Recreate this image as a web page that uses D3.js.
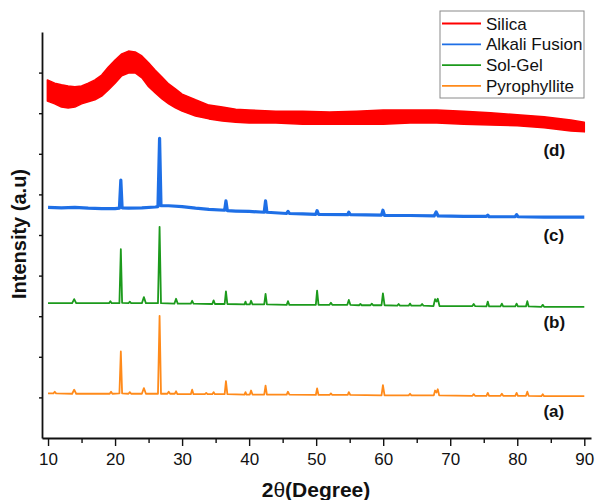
<!DOCTYPE html>
<html>
<head>
<meta charset="utf-8">
<script src="https://cdn.jsdelivr.net/npm/d3@7"></script>
<style>
  body { margin: 0; background: #fff; }
  svg { display: block; font-family: 'Liberation Sans', Arial, sans-serif; }
</style>
</head>
<body>
<svg id="chart" width="597" height="500"></svg>
<script>
// 2theta (deg) / intensity (a.u., stacked)
const pyrophyllite = [
  [10.0, 1.10], [10.8, 1.10], [11.0, 1.14], [11.2, 1.10],
  [13.6, 1.09], [13.9, 1.19], [14.2, 1.09],
  [19.2, 1.09], [19.4, 1.14], [19.6, 1.09],
  [20.65, 1.10], [20.86, 2.13], [21.05, 1.10],
  [22.0, 1.09], [22.2, 1.13], [22.4, 1.09],
  [24.0, 1.09], [24.3, 1.23], [24.6, 1.09],
  [26.4, 1.09], [26.64, 3.01], [26.85, 1.09],
  [27.8, 1.09], [28.0, 1.14], [28.2, 1.09],
  [28.9, 1.09], [29.1, 1.15], [29.3, 1.08],
  [31.3, 1.08], [31.5, 1.19], [31.7, 1.08],
  [33.4, 1.08], [33.6, 1.11], [33.8, 1.08],
  [34.5, 1.08], [34.7, 1.13], [34.9, 1.08],
  [36.35, 1.08], [36.54, 1.40], [36.75, 1.08],
  [39.3, 1.07], [39.46, 1.13], [39.6, 1.07], [40.1, 1.07], [40.29, 1.17], [40.5, 1.07],
  [42.25, 1.07], [42.45, 1.29], [42.65, 1.07],
  [45.6, 1.07], [45.79, 1.14], [46.0, 1.07],
  [49.95, 1.06], [50.14, 1.22], [50.35, 1.06],
  [52.0, 1.06], [52.2, 1.10], [52.4, 1.06],
  [54.7, 1.06], [54.87, 1.13], [55.1, 1.06],
  [59.75, 1.05], [59.96, 1.30], [60.2, 1.05],
  [63.8, 1.05], [64.0, 1.09], [64.2, 1.05],
  [67.55, 1.05], [67.74, 1.17], [67.95, 1.12], [68.14, 1.20], [68.35, 1.05],
  [73.3, 1.04], [73.5, 1.08], [73.7, 1.04],
  [75.4, 1.04], [75.6, 1.11], [75.8, 1.04],
  [77.5, 1.04], [77.7, 1.09], [77.9, 1.04],
  [79.7, 1.04], [79.9, 1.11], [80.1, 1.04],
  [81.3, 1.04], [81.5, 1.14], [81.7, 1.04],
  [83.6, 1.03], [83.8, 1.08], [84.0, 1.03],
  [90.0, 1.03]
];

const solGel = [
  [10.0, 3.32], [13.6, 3.32], [13.9, 3.42], [14.2, 3.32],
  [19.1, 3.32], [19.3, 3.37], [19.5, 3.32],
  [20.65, 3.32], [20.86, 4.65], [21.05, 3.33],
  [22.0, 3.32], [22.2, 3.36], [22.4, 3.32],
  [24.0, 3.32], [24.3, 3.47], [24.6, 3.32],
  [26.4, 3.32], [26.64, 5.20], [26.85, 3.32],
  [28.85, 3.31], [29.1, 3.43], [29.35, 3.31],
  [31.3, 3.31], [31.5, 3.38], [31.7, 3.31],
  [34.5, 3.30], [34.7, 3.39], [34.9, 3.30],
  [36.35, 3.30], [36.54, 3.61], [36.75, 3.30],
  [39.3, 3.29], [39.46, 3.36], [39.6, 3.29], [40.1, 3.29], [40.29, 3.38], [40.5, 3.29],
  [42.25, 3.29], [42.45, 3.55], [42.65, 3.29],
  [45.6, 3.28], [45.79, 3.37], [46.0, 3.28],
  [49.95, 3.28], [50.14, 3.63], [50.35, 3.28],
  [52.0, 3.28], [52.2, 3.33], [52.4, 3.28],
  [54.65, 3.28], [54.87, 3.40], [55.1, 3.28],
  [56.4, 3.27], [56.6, 3.30], [56.8, 3.27],
  [58.1, 3.27], [58.3, 3.31], [58.5, 3.27],
  [59.75, 3.27], [59.96, 3.56], [60.2, 3.27],
  [62.1, 3.26], [62.3, 3.30], [62.5, 3.26],
  [63.8, 3.26], [64.0, 3.31], [64.2, 3.26],
  [65.6, 3.26], [65.8, 3.30], [66.0, 3.26],
  [67.5, 3.25], [67.74, 3.42], [67.95, 3.36], [68.14, 3.43], [68.4, 3.25],
  [73.3, 3.25], [73.5, 3.30], [73.7, 3.25],
  [75.4, 3.24], [75.6, 3.36], [75.8, 3.24],
  [77.5, 3.24], [77.7, 3.31], [77.9, 3.24],
  [79.7, 3.24], [79.9, 3.31], [80.1, 3.24],
  [81.3, 3.24], [81.5, 3.37], [81.7, 3.24],
  [83.6, 3.23], [83.8, 3.28], [84.0, 3.23],
  [90.0, 3.23]
];

const alkaliFusion = [
  [10.0, 5.68], [12.0, 5.67], [14.0, 5.68], [16.0, 5.66], [18.0, 5.65], [20.0, 5.65],
  [20.65, 5.66], [20.86, 6.35], [21.05, 5.67],
  [22.0, 5.66], [24.0, 5.67], [26.0, 5.69],
  [26.4, 5.70], [26.64, 7.38], [26.85, 5.72],
  [28.0, 5.72], [30.0, 5.70], [32.0, 5.66], [34.0, 5.63],
  [36.35, 5.61], [36.54, 5.84], [36.75, 5.60],
  [38.0, 5.59], [40.0, 5.58],
  [42.25, 5.56], [42.45, 5.84], [42.65, 5.56],
  [45.6, 5.53], [45.8, 5.58], [46.0, 5.53],
  [48.0, 5.52], [49.95, 5.51], [50.14, 5.60], [50.35, 5.51],
  [54.7, 5.50], [54.87, 5.56], [55.1, 5.50],
  [59.75, 5.49], [59.96, 5.61], [60.2, 5.48],
  [64.0, 5.48], [67.6, 5.47], [67.9, 5.57], [68.2, 5.47],
  [72.0, 5.46], [75.4, 5.46], [75.6, 5.49], [75.8, 5.45],
  [79.7, 5.45], [79.9, 5.50], [80.1, 5.45],
  [84.0, 5.44], [90.0, 5.44]
];

// silica is a noisy amorphous hump: [2theta, upper edge, lower edge]
const silica = [
  [9.9, 8.82, 8.30], [11, 8.74, 8.23], [12, 8.70, 8.15], [13, 8.67, 8.13],
  [14, 8.65, 8.15], [15, 8.67, 8.23], [16, 8.74, 8.28], [17, 8.82, 8.33],
  [18, 8.94, 8.42], [19, 9.14, 8.57], [20, 9.31, 8.74], [21, 9.46, 8.92],
  [22, 9.53, 8.99], [23, 9.51, 8.99], [24, 9.41, 8.87], [25, 9.24, 8.65],
  [26, 9.06, 8.50], [27, 8.89, 8.35], [28, 8.72, 8.23], [29, 8.60, 8.13],
  [30, 8.47, 8.05], [32, 8.33, 7.93], [34, 8.20, 7.86], [36, 8.15, 7.81],
  [38, 8.10, 7.78], [40, 8.08, 7.76], [44, 8.05, 7.76], [48, 8.05, 7.73],
  [52, 8.03, 7.73], [56, 8.05, 7.73], [60, 8.08, 7.73], [64, 8.08, 7.76],
  [68, 8.08, 7.76], [72, 8.05, 7.73], [76, 8.01, 7.71], [80, 7.96, 7.69],
  [84, 7.91, 7.64], [88, 7.83, 7.56], [90, 7.78, 7.54]
];

const legendNames = ['Silica', 'Alkali Fusion', 'Sol-Gel', 'Pyrophyllite'];
const sampleTags = ['(d)', '(c)', '(b)', '(a)'];
const xTicks = [10, 20, 30, 40, 50, 60, 70, 80, 90];
const xMinorTicks = [15, 25, 35, 45, 55, 65, 75, 85];
const yTicks = [1, 2, 3, 4, 5, 6, 7, 8, 9];

const colors = {
  Silica: '#ff0000',
  'Alkali Fusion': '#1e6fe6',
  'Sol-Gel': '#1c9a1c',
  Pyrophyllite: '#ff8a1a',
};

const svg = d3.select('#chart');

const x = d3.scaleLinear().domain([9.1, 91]).range([42, 591]);
const y = d3.scaleLinear().domain([0, 10]).range([438, 32]);

// curves
const line = d3
  .line()
  .x((d) => x(d[0]))
  .y((d) => y(d[1]));

const area = d3
  .area()
  .x((d) => x(d[0]))
  .y0((d) => y(d[2]))
  .y1((d) => y(d[1]));

svg
  .append('path')
  .datum(silica)
  .attr('d', area)
  .attr('fill', colors.Silica)
  .attr('stroke', colors.Silica)
  .attr('stroke-width', 1.5)
  .attr('stroke-linejoin', 'round');

svg
  .append('path')
  .datum(alkaliFusion)
  .attr('d', line)
  .attr('fill', 'none')
  .attr('stroke', colors['Alkali Fusion'])
  .attr('stroke-width', 3.2)
  .attr('stroke-linejoin', 'round');

svg
  .append('path')
  .datum(solGel)
  .attr('d', line)
  .attr('fill', 'none')
  .attr('stroke', colors['Sol-Gel'])
  .attr('stroke-width', 1.8)
  .attr('stroke-linejoin', 'round');

svg
  .append('path')
  .datum(pyrophyllite)
  .attr('d', line)
  .attr('fill', 'none')
  .attr('stroke', colors.Pyrophyllite)
  .attr('stroke-width', 1.8)
  .attr('stroke-linejoin', 'round');

// axes
const xAxis = svg
  .append('g')
  .attr('transform', `translate(0, ${y(0)})`)
  .call(
    d3.axisBottom(x).tickValues(xTicks).tickSize(8).tickSizeOuter(0).tickPadding(7),
  );
xAxis.selectAll('text').attr('font-size', 17).attr('fill', '#111');

svg
  .append('g')
  .attr('transform', `translate(0, ${y(0)})`)
  .call(
    d3.axisBottom(x).tickValues(xMinorTicks).tickSize(5).tickSizeOuter(0).tickFormat(''),
  )
  .select('.domain')
  .remove();

svg
  .append('g')
  .attr('transform', `translate(${x.range()[0]}, 0)`)
  .call(d3.axisLeft(y).tickValues(yTicks).tickSize(3).tickSizeOuter(0).tickFormat(''));

svg.selectAll('.domain').attr('stroke', '#111').attr('stroke-width', 1.8);
svg.selectAll('.tick line').attr('stroke', '#111').attr('stroke-width', 1.4);

// axis titles
const xTitle = svg
  .append('text')
  .attr('x', 316)
  .attr('y', 497)
  .attr('text-anchor', 'middle')
  .attr('font-size', 21)
  .attr('font-weight', 'bold')
  .attr('fill', '#111');
xTitle.append('tspan').text('2');
xTitle.append('tspan').attr('font-weight', 'normal').text('θ');
xTitle.append('tspan').text('(Degree)');

svg
  .append('text')
  .attr('transform', 'translate(26, 234) rotate(-90)')
  .attr('text-anchor', 'middle')
  .attr('font-size', 20)
  .attr('font-weight', 'bold')
  .attr('fill', '#111')
  .text('Intensity (a.u)');

// sample tags
const tagLevels = [6.95, 4.85, 2.7, 0.52];
svg
  .selectAll('.tag')
  .data(sampleTags)
  .join('text')
  .attr('class', 'tag')
  .attr('x', x(83.9))
  .attr('y', (d, i) => y(tagLevels[i]))
  .attr('font-size', 17)
  .attr('font-weight', 'bold')
  .attr('fill', '#111')
  .text((d) => d);

// legend
const legend = svg.append('g').attr('transform', 'translate(440, 11)');
legend
  .append('rect')
  .attr('width', 144)
  .attr('height', 87)
  .attr('fill', '#fff')
  .attr('stroke', '#8a8a8a')
  .attr('stroke-width', 1);

const rows = legend
  .selectAll('.row')
  .data(legendNames)
  .join('g')
  .attr('class', 'row')
  .attr('transform', (d, i) => `translate(0, ${12.5 + i * 20.8})`);

rows
  .append('line')
  .attr('x1', 2)
  .attr('x2', 41)
  .attr('stroke', (d) => colors[d])
  .attr('stroke-width', 1.8);

rows
  .append('text')
  .attr('x', 46)
  .attr('dy', '0.36em')
  .attr('font-size', 17)
  .attr('fill', '#111')
  .text((d) => d);
</script>
</body>
</html>
